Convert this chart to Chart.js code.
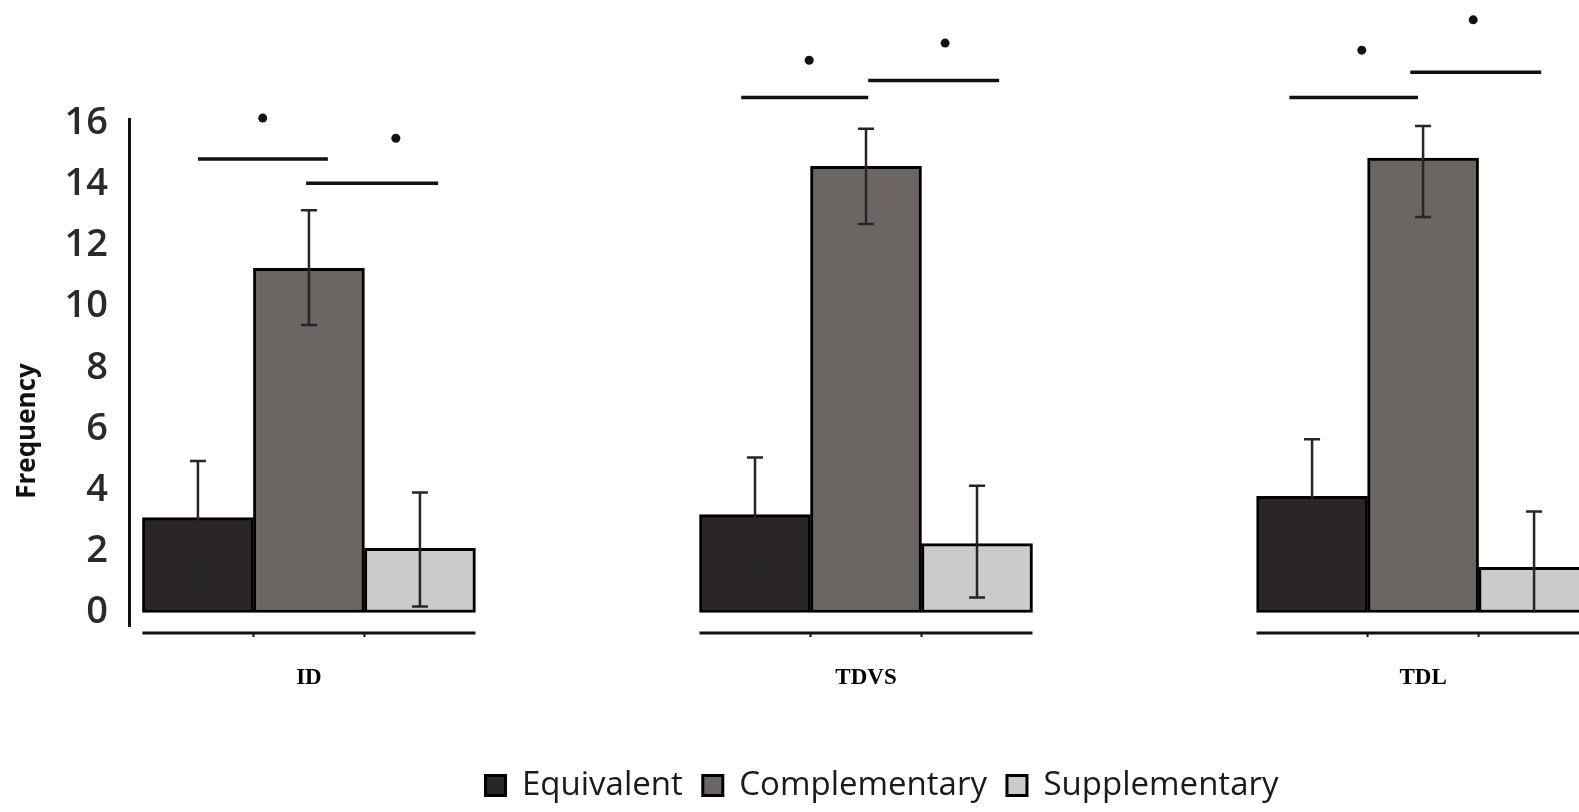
<!DOCTYPE html>
<html>
<head>
<meta charset="utf-8">
<script src="https://cdn.jsdelivr.net/npm/chart.js@4.4.1/dist/chart.umd.min.js"></script>
<style>
  html, body { margin: 0; padding: 0; background: #fff; overflow: hidden; width: 1579px; height: 812px; }
  #c { display: block; position: absolute; left: 0; top: 0; }
</style>
</head>
<body>
<canvas id="c" width="1764" height="812"></canvas>
<script>
// ---- data ----
const groups = ['ID', 'TDVS', 'TDL'];
const seriesNames = ['Equivalent', 'Complementary', 'Supplementary'];
const equivalent = [3.1, 3.2, 3.8];
const complementary = [11.25, 14.58, 14.85];
const supplementary = [2.1, 2.25, 1.48];
// error bars: upper and lower extents
const equivalentErrUp = [1.85, 1.87, 1.86];
const equivalentErrDown = [1.92, 1.88, 1.78];
const complementaryErrUp = [1.9, 1.23, 1.05];
const complementaryErrDown = [1.85, 1.88, 1.92];
const supplementaryErrUp = [1.82, 1.89, 1.82];
const supplementaryErrDown = [1.9, 1.76, 1.83];
const yTicks = [0, 2, 4, 6, 8, 10, 12, 14, 16];
// significance brackets: [x from, x to, y] (x in group units, y in Frequency)
const sigLines = [[-0.199, 0.034, 14.82], [-0.005, 0.232, 14.03],
                  [0.776, 1.004, 16.83], [1.004, 1.239, 17.39],
                  [1.760, 1.991, 16.83], [1.977, 2.212, 17.66]];
// significance marks: [x, y]
const sigMarks = [[-0.083, 16.16], [0.156, 15.5],
                  [0.898, 18.05], [1.142, 18.61],
                  [1.890, 18.38], [2.090, 19.37]];
const yTitle = 'Frequency';

const fills = ['#2a2625', '#6b6664', '#cccaca'];
const seriesValues = [equivalent, complementary, supplementary];
const seriesErrUp = [equivalentErrUp, complementaryErrUp, supplementaryErrUp];
const seriesErrDown = [equivalentErrDown, complementaryErrDown, supplementaryErrDown];
const BAR_W = 111;

const datasets = seriesNames.map((name, s) => ({
  label: name,
  data: groups.map((g, i) => ({ x: i, y: seriesValues[s][i] })),
  errUp: seriesErrUp[s],
  errDown: seriesErrDown[s],
  backgroundColor: fills[s],
  borderColor: '#000',
  borderWidth: 3,
  borderSkipped: false,
  barThickness: BAR_W
}));

const decor = {
  id: 'decor',
  afterDatasetsDraw(chart) {
    const ctx = chart.ctx;
    const xs = chart.scales.x, ys = chart.scales.y;
    ctx.save();
    // error bars
    ctx.strokeStyle = '#262626';
    ctx.lineWidth = 2.5;
    chart.data.datasets.forEach((ds, di) => {
      const meta = chart.getDatasetMeta(di);
      meta.data.forEach((bar, i) => {
        const v = ds.data[i].y;
        const top = ys.getPixelForValue(v + ds.errUp[i]);
        const lowV = v - ds.errDown[i];
        const bot = ys.getPixelForValue(Math.max(0, lowV));
        ctx.beginPath();
        ctx.moveTo(bar.x, top); ctx.lineTo(bar.x, bot);
        ctx.moveTo(bar.x - 8, top); ctx.lineTo(bar.x + 8, top);
        if (lowV >= 0) { ctx.moveTo(bar.x - 8, bot); ctx.lineTo(bar.x + 8, bot); }
        ctx.stroke();
      });
    });
    // group underlines
    const uy = chart.chartArea.bottom + 7;
    ctx.strokeStyle = '#111';
    groups.forEach((g, i) => {
      const cx = xs.getPixelForValue(i);
      ctx.lineWidth = 3;
      ctx.beginPath();
      ctx.moveTo(cx - 1.5 * BAR_W, uy); ctx.lineTo(cx + 1.5 * BAR_W, uy);
      ctx.stroke();
      ctx.lineWidth = 2;
      ctx.beginPath();
      [-0.5, 0.5].forEach(k => {
        ctx.moveTo(cx + k * BAR_W, uy); ctx.lineTo(cx + k * BAR_W, uy + 4);
      });
      ctx.stroke();
    });
    // significance lines
    ctx.strokeStyle = '#111';
    ctx.lineWidth = 3.5;
    sigLines.forEach(([a, b, y]) => {
      const py = ys.getPixelForValue(y);
      ctx.beginPath();
      ctx.moveTo(xs.getPixelForValue(a), py); ctx.lineTo(xs.getPixelForValue(b), py);
      ctx.stroke();
    });
    ctx.fillStyle = '#111';
    sigMarks.forEach(([x, y]) => {
      ctx.beginPath();
      ctx.arc(xs.getPixelForValue(x), ys.getPixelForValue(y), 4.5, 0, Math.PI * 2);
      ctx.fill();
    });
    // y axis title
    ctx.translate(28, 431);
    ctx.rotate(-Math.PI / 2);
    ctx.font = 'bold 26px "Open Sans"';
    ctx.fillStyle = '#111';
    ctx.textAlign = 'center';
    ctx.textBaseline = 'middle';
    ctx.fillText(yTitle, 0, 0);
    ctx.restore();
  }
};

new Chart(document.getElementById('c'), {
  type: 'bar',
  data: { datasets },
  plugins: [decor],
  options: {
    responsive: false,
    animation: false,
    layout: { padding: { top: 119, right: 0, left: 0, bottom: 0 } },
    plugins: {
      tooltip: { enabled: false },
      legend: {
        position: 'bottom',
        labels: {
          font: { family: '"Open Sans"', size: 33 },
          color: '#1a1a1a',
          boxWidth: 20,
          boxHeight: 20,
          padding: 20
        }
      }
    },
    scales: {
      x: {
        type: 'linear',
        offset: false,
        min: -0.323,
        max: 2.612,
        grid: { display: false, drawTicks: false },
        border: { display: false },
        afterBuildTicks: s => { s.ticks = groups.map((g, i) => ({ value: i })); },
        afterFit: s => { s.height = 123; },
        ticks: {
          callback: v => groups[v],
          font: { family: '"Liberation Serif"', size: 23, weight: 'bold' },
          color: '#000',
          padding: 38,
          maxRotation: 0,
          autoSkip: false
        }
      },
      y: {
        min: -0.44,
        max: 16.13,
        grid: { display: false, drawTicks: false },
        border: { display: true, color: '#111', width: 3 },
        afterBuildTicks: s => { s.ticks = yTicks.map(v => ({ value: v })); },
        afterFit: s => { s.width = 129; },
        ticks: {
          font: { family: '"Open Sans"', size: 38, weight: '600' },
          color: '#2a2a2a',
          padding: 21
        }
      }
    }
  }
});
</script>
</body>
</html>
